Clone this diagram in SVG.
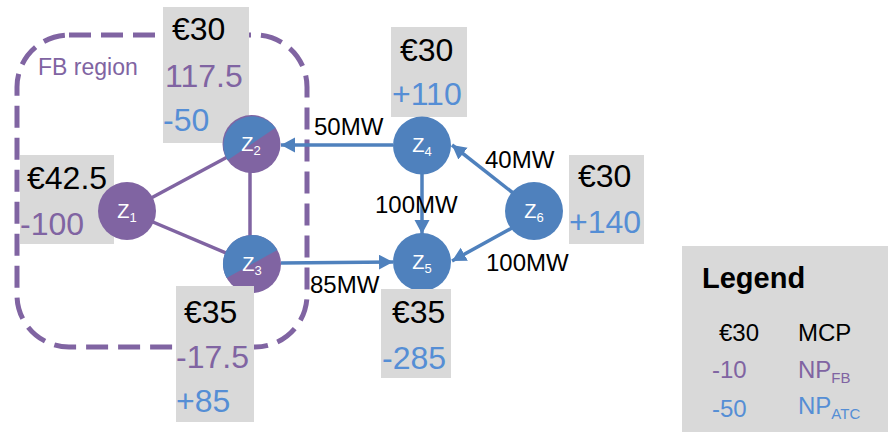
<svg xmlns="http://www.w3.org/2000/svg" width="888" height="432" viewBox="0 0 888 432">
<defs>
<marker id="arr" markerUnits="userSpaceOnUse" markerWidth="16" markerHeight="16" refX="14" refY="7.5" orient="auto">
<path d="M0,0 L14,7.5 L0,15 Z" fill="#4f81bd"/>
</marker>
<style>
text{font-family:"Liberation Sans",Arial,sans-serif}
.box{fill:#d9d9d9}
.v{font-size:32px}
.k{fill:#000}
.p{fill:#8064a2}
.b{fill:#558ed5}
.fb{stroke:#8064a2;stroke-width:3.5;fill:none}
.atc{stroke:#4f81bd;stroke-width:3.5;fill:none}
.lbl{font-size:24px;fill:#000}
.z{font-size:20px;fill:#fff}
.zs{font-size:13px}
.lg{font-size:24px}
</style>
</defs>
<rect width="888" height="432" fill="#fff"/>
<g id="fb-region">
<rect x="17" y="35" width="290" height="312" rx="52" ry="52" fill="none" stroke="#8064a2" stroke-width="5" stroke-dasharray="22 10"/>
<text x="38" y="75" font-size="23" class="p">FB region</text>
</g>
<g id="connectors">
<line class="fb" x1="127" y1="211" x2="251.5" y2="144"/>
<line class="fb" x1="127" y1="211" x2="252" y2="264"/>
<line class="fb" x1="250" y1="144" x2="250" y2="264"/>
<line class="atc" x1="393" y1="145" x2="281" y2="145" marker-end="url(#arr)"/>
<line class="atc" x1="281" y1="263" x2="393" y2="262" marker-end="url(#arr)"/>
<line class="atc" x1="422" y1="174" x2="422" y2="234" marker-end="url(#arr)"/>
<line class="atc" x1="513" y1="193" x2="452" y2="145" marker-end="url(#arr)"/>
<line class="atc" x1="512" y1="228" x2="452" y2="261" marker-end="url(#arr)"/>
<text class="lbl" x="314" y="135">50MW</text>
<text class="lbl" x="485" y="168">40MW</text>
<text class="lbl" x="375" y="213">100MW</text>
<text class="lbl" x="486" y="271">100MW</text>
<text class="lbl" x="310" y="293">85MW</text>
</g>
<g id="z1">
<rect class="box" x="20" y="155" width="94" height="89"/>
<text class="v k" x="27" y="189">€42.5</text>
<text class="v p" x="20" y="235">-100</text>
<circle cx="127" cy="211" r="29" fill="#8064a2"/>
<text class="z" x="127" y="218" text-anchor="middle">Z<tspan class="zs" dy="4">1</tspan></text>
</g>
<g id="z2">
<rect class="box" x="163" y="7" width="86" height="136"/>
<text class="v k" x="172" y="40">€30</text>
<text class="v p" x="165" y="87">117.5</text>
<text class="v b" x="163" y="131">-50</text>
<circle cx="251.5" cy="144" r="29" fill="#8064a2"/>
<path d="M275.5,127.8 A29,29 0 0 0 227.5,160.2 Z" fill="#4f81bd"/>
<text class="z" x="251" y="151" text-anchor="middle">Z<tspan class="zs" dy="4">2</tspan></text>
</g>
<g id="z3">
<circle cx="252" cy="264" r="29" fill="#8064a2"/>
<path d="M277.4,249.9 A29,29 0 0 0 226.6,278.1 Z" fill="#4f81bd"/>
<text class="z" x="252" y="271" text-anchor="middle">Z<tspan class="zs" dy="4">3</tspan></text>
<rect class="box" x="176" y="286" width="78" height="136"/>
<text class="v k" x="184" y="323">€35</text>
<text class="v p" x="176" y="368">-17.5</text>
<text class="v b" x="176" y="412">+85</text>
</g>
<g id="z4">
<rect class="box" x="391" y="27" width="76" height="90"/>
<text class="v k" x="400" y="61">€30</text>
<text class="v b" x="392" y="105">+110</text>
<circle cx="422" cy="145.5" r="29" fill="#4f81bd"/>
<text class="z" x="422" y="152" text-anchor="middle">Z<tspan class="zs" dy="4">4</tspan></text>
</g>
<g id="z5">
<circle cx="422" cy="262" r="29" fill="#4f81bd"/>
<text class="z" x="422" y="269" text-anchor="middle">Z<tspan class="zs" dy="4">5</tspan></text>
<rect class="box" x="381" y="289" width="70" height="89"/>
<text class="v k" x="392" y="323">€35</text>
<text class="v b" x="382" y="369">-285</text>
</g>
<g id="z6">
<rect class="box" x="569" y="155" width="75" height="89"/>
<text class="v k" x="578" y="187">€30</text>
<text class="v b" x="569" y="233">+140</text>
<circle cx="534" cy="211" r="29" fill="#4f81bd"/>
<text class="z" x="534" y="218" text-anchor="middle">Z<tspan class="zs" dy="4">6</tspan></text>
</g>
<g id="legend">
<rect class="box" x="682" y="246" width="206" height="186"/>
<text x="702" y="288" font-size="29" font-weight="bold" fill="#000">Legend</text>
<text class="lg k" x="719" y="341">€30</text>
<text class="lg k" x="798" y="341">MCP</text>
<text class="lg p" x="712" y="378">-10</text>
<text class="lg p" x="798" y="378">NP<tspan font-size="15" dy="5">FB</tspan></text>
<text class="lg b" x="712" y="417">-50</text>
<text class="lg b" x="798" y="414">NP<tspan font-size="15" dy="5">ATC</tspan></text>
</g>
</svg>
